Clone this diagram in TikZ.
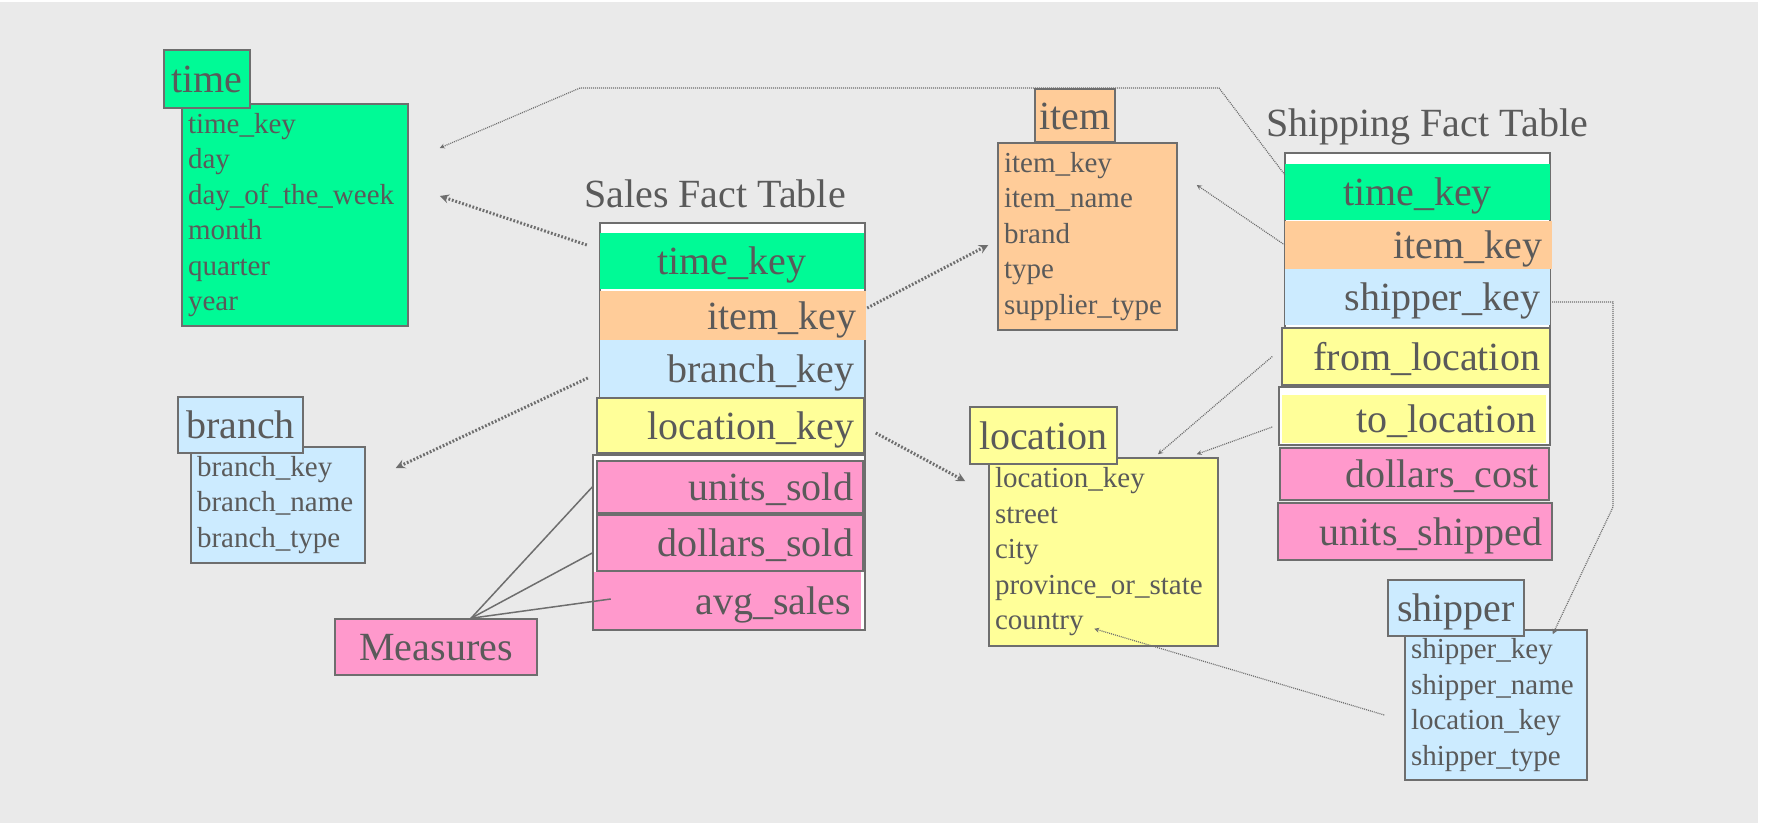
\documentclass[tikz,border=0pt]{standalone}
\usepackage{fontspec}
\setmainfont{Liberation Serif}
\usepackage{tikz}
\definecolor{keygreen}{HTML}{00FA96}
\definecolor{keyorange}{HTML}{FFCC99}
\definecolor{keyblue}{HTML}{CCEBFF}
\definecolor{keyyellow}{HTML}{FFFF99}
\definecolor{keypink}{HTML}{FF99CC}
\definecolor{bgcol}{HTML}{EAEAEA}
\definecolor{textcol}{HTML}{5A5A5A}
\definecolor{edgecol}{HTML}{6E6E6E}
\tikzstyle{tablehead} = [draw=edgecol, line width=1.5pt, inner sep=0pt, text height=34pt, text depth=6pt, font=\fontsize{40}{48}\selectfont, text=textcol]
\tikzstyle{tablebody} = [draw=edgecol, line width=1.5pt, inner xsep=6pt, inner ysep=0pt, align=left, font=\fontsize{29}{35.5}\selectfont, text=textcol]
\tikzstyle{factrow} = [inner xsep=10pt, inner ysep=0pt, align=right, text height=34pt, text depth=6pt, font=\fontsize{40}{48}\selectfont, text=textcol]
\tikzstyle{factbox} = [draw=edgecol, line width=1.5pt, fill=white, inner sep=0pt]
\tikzstyle{keylink} = [edgecol, line width=3pt, dash pattern=on 1.8pt off 1.8pt, -stealth]
\tikzstyle{reflink} = [edgecol, line width=1.2pt, dash pattern=on 1pt off 1pt, -stealth]
\begin{document}
\begin{tikzpicture}[x=1pt,y=1pt]
			\useasboundingbox (0,0) rectangle (1775,825);
			\fill[white] (0,0) rectangle (1775,825);
			\fill[bgcol] (0,2) rectangle (1758,823);
			% dimension tables
			\node[tablebody, fill=keygreen, minimum width=226pt, text width=214pt, minimum height=222pt] (timebody) at (295,610) {time\_key\\day\\day\_of\_the\_week\\month\\quarter\\year};
			\node[tablehead, fill=keygreen, minimum width=86pt, minimum height=58pt] (timehead) at (207,746) {time};
			\node[tablebody, fill=keyblue, minimum width=174pt, text width=162pt, minimum height=116pt] (branchbody) at (278,320) {branch\_key\\branch\_name\\branch\_type};
			\node[tablehead, fill=keyblue, minimum width=125pt, minimum height=56pt] (branchhead) at (240.5,400) {branch};
			\node[tablebody, fill=keyorange, minimum width=179pt, text width=167pt, minimum height=187pt] (itembody) at (1087.5,588.5) {item\_key\\item\_name\\brand\\type\\supplier\_type};
			\node[tablehead, fill=keyorange, minimum width=80pt, minimum height=53pt] (itemhead) at (1075,709.5) {item};
			\node[tablebody, fill=keyyellow, minimum width=229pt, text width=217pt, minimum height=188pt] (locbody) at (1103.5,273) {location\_key\\street\\city\\province\_or\_state\\country};
			\node[tablehead, fill=keyyellow, minimum width=147pt, minimum height=57pt] (lochead) at (1043.5,389.5) {location};
			\node[tablebody, fill=keyblue, minimum width=182pt, text width=170pt, minimum height=150pt] (shipbody) at (1496,120) {shipper\_key\\shipper\_name\\location\_key\\shipper\_type};
			\node[tablehead, fill=keyblue, minimum width=136pt, minimum height=56pt] (shiphead) at (1456,217) {shipper};
			% sales fact table
			\node[anchor=base, text=textcol, font=\fontsize{40}{48}\selectfont] (salestitle) at (715,617) {Sales Fact Table};
			\node[factbox, minimum width=265pt, minimum height=230pt] (salesbox) at (732.5,487) {};
			\node[factrow, fill=keygreen, align=center, minimum width=264pt, text width=244pt, minimum height=56pt] (stime) at (732,564) {time\_key};
			\node[factrow, fill=keyorange, minimum width=266pt, text width=246pt, minimum height=49pt] (sitem) at (733,509.5) {item\_key};
			\node[factrow, fill=keyblue, minimum width=264pt, text width=244pt, minimum height=57pt] (sbranch) at (732,456.5) {branch\_key};
			\node[factrow, fill=keyyellow, draw=edgecol, line width=1.5pt, minimum width=267pt, text width=247pt, minimum height=55pt] (sloc) at (730.5,399.5) {location\_key};
			\node[factbox, minimum width=272pt, minimum height=175pt] (measbox) at (729,282.5) {};
			\node[factrow, fill=keypink, draw=edgecol, line width=1.5pt, minimum width=266pt, text width=246pt, minimum height=52pt] (sunits) at (730,338) {units\_sold};
			\node[factrow, fill=keypink, draw=edgecol, line width=1.5pt, minimum width=266pt, text width=246pt, minimum height=56pt] (sdollars) at (730,282) {dollars\_sold};
			\node[factrow, fill=keypink, minimum width=267pt, text width=247pt, minimum height=57pt] (savg) at (727.5,224.5) {avg\_sales};
			\node[tablehead, fill=keypink, minimum width=202pt, minimum height=56pt] (measures) at (436,178) {Measures};
			% shipping fact table
			\node[anchor=base, text=textcol, font=\fontsize{40}{48}\selectfont] (shiptitle) at (1427,688) {Shipping Fact Table};
			\node[factbox, minimum width=265pt, minimum height=232pt] (shipbox) at (1417.5,556) {};
			\node[factrow, fill=keygreen, align=center, minimum width=265pt, text width=245pt, minimum height=56pt] (htime) at (1417.5,633) {time\_key};
			\node[factrow, fill=keyorange, minimum width=267pt, text width=247pt, minimum height=48pt] (hitem) at (1418.5,580) {item\_key};
			\node[factrow, fill=keyblue, minimum width=265pt, text width=245pt, minimum height=56pt] (hshipper) at (1417.5,528) {shipper\_key};
			\node[factrow, fill=keyyellow, draw=edgecol, line width=1.5pt, minimum width=268pt, text width=248pt, minimum height=57pt] (hfrom) at (1416,468.5) {from\_location};
			\node[factbox, minimum width=271pt, minimum height=58pt] (htobox) at (1414.5,409) {};
			\node[factrow, fill=keyyellow, minimum width=264pt, text width=244pt, minimum height=48pt] (hto) at (1414,406) {to\_location};
			\node[factrow, fill=keypink, draw=edgecol, line width=1.5pt, minimum width=269pt, text width=249pt, minimum height=52pt] (hdollars) at (1414.5,351) {dollars\_cost};
			\node[factrow, fill=keypink, draw=edgecol, line width=1.5pt, minimum width=274pt, text width=254pt, minimum height=57pt] (hunits) at (1415,293.5) {units\_shipped};
			% links of the sales table
			\draw[keylink] ([shift={(-13,16)}]stime.west) -- ([shift={(31,19)}]timebody.east);
			\draw[keylink] ([shift={(-12,-9.5)}]sbranch.west) -- ([shift={(30,37)}]branchbody.east);
			\draw[keylink] ([shift={(1,7.5)}]sitem.east) -- ([shift={(-9,-8.5)}]itembody.west);
			\draw[keylink] ([shift={(11,-7.5)}]sloc.east) -- ([shift={(-23,-24)}]locbody.north west);
			\draw[edgecol, line width=1.5pt] ([xshift=35pt]measures.north) -- ([xshift=-4pt]sunits.west);
			\draw[edgecol, line width=1.5pt] ([xshift=35pt]measures.north) -- ([shift={(-4,-10)}]sdollars.west);
			\draw[edgecol, line width=1.5pt] ([xshift=35pt]measures.north) -- ([shift={(17,1.5)}]savg.west);
			% links of the shipping table
			\draw[reflink] ([yshift=-11pt]htime.north west) -- (1219,737) -- (580,737) -- ([shift={(31,67)}]timebody.east);
			\draw[reflink] (hitem.west) -- ([shift={(19,51.5)}]itembody.east);
			\draw[reflink] ([xshift=-9pt]hfrom.west) -- ([shift={(54.5,3)}]locbody.north);
			\draw[reflink] ([shift={(-6,-11)}]htobox.west) -- ([shift={(-22,3)}]locbody.north east);
			\draw[reflink] ([shift={(2,-5)}]hshipper.east) -- (1613,523) -- (1613,318) -- ([shift={(-35,-5)}]shipbody.north east);
			\draw[reflink] ([shift={(-20,-10)}]shipbody.west) -- ([shift={(106,18)}]locbody.south west);
		\end{tikzpicture}
\end{document}
